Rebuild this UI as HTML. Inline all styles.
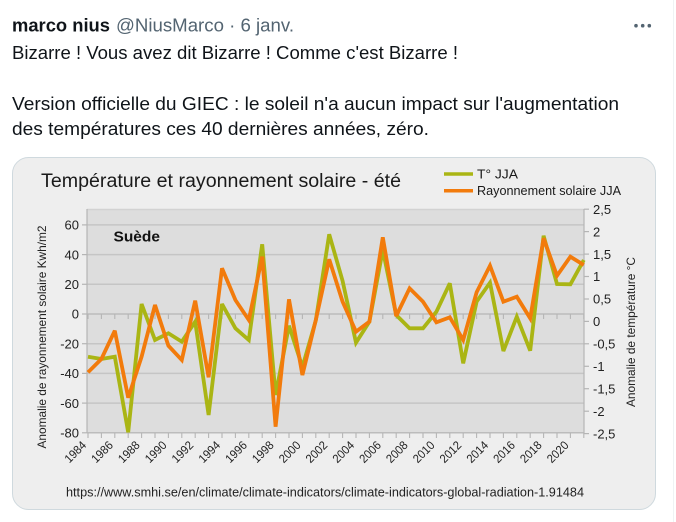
<!DOCTYPE html>
<html><head><meta charset="utf-8"><style>
html,body{margin:0;padding:0;background:#fff;}
svg{display:block;}
</style></head><body>
<svg width="676" height="522" viewBox="0 0 676 522" xmlns="http://www.w3.org/2000/svg" font-family="'Liberation Sans', Arial, sans-serif">
<rect width="676" height="522" fill="#ffffff"/>
<line x1="673.5" y1="0" x2="673.5" y2="522" stroke="#eff3f4" stroke-width="1"/>
<!-- tweet header -->
<text x="12" y="31.5" font-size="18.5" font-weight="bold" fill="#0f1419" textLength="98" lengthAdjust="spacingAndGlyphs">marco nius</text>
<text x="116" y="31.5" font-size="18" fill="#536471" textLength="178" lengthAdjust="spacingAndGlyphs">@NiusMarco · 6 janv.</text>
<circle cx="636" cy="25.7" r="1.8" fill="#536471"/><circle cx="642.7" cy="25.7" r="1.8" fill="#536471"/><circle cx="649.3" cy="25.7" r="1.8" fill="#536471"/>
<text x="12" y="59" font-size="18" fill="#0f1419" textLength="446" lengthAdjust="spacingAndGlyphs">Bizarre ! Vous avez dit Bizarre ! Comme c'est Bizarre !</text>
<text x="12" y="110" font-size="18" fill="#0f1419" textLength="607" lengthAdjust="spacingAndGlyphs">Version officielle du GIEC : le soleil n'a aucun impact sur l'augmentation</text>
<text x="12" y="135" font-size="18" fill="#0f1419" textLength="417" lengthAdjust="spacingAndGlyphs">des températures ces 40 dernières années, zéro.</text>
<!-- card -->
<rect x="12.5" y="157.5" width="643" height="352" rx="16" ry="16" fill="#eeeeee" stroke="#cfd9de" stroke-width="1"/>
<!-- title & legend -->
<text x="41" y="187" font-size="19" fill="#1a1a1a" textLength="360" lengthAdjust="spacingAndGlyphs">Température et rayonnement solaire - été</text>
<line x1="444" y1="174" x2="473" y2="174" stroke="#aab514" stroke-width="3.5"/>
<line x1="444" y1="190.7" x2="473" y2="190.7" stroke="#f27b0c" stroke-width="3.5"/>
<text x="477" y="178.5" font-size="12.5" fill="#1a1a1a" textLength="41" lengthAdjust="spacingAndGlyphs">T° JJA</text>
<text x="477" y="195" font-size="12.5" fill="#1a1a1a" textLength="144" lengthAdjust="spacingAndGlyphs">Rayonnement solaire JJA</text>
<!-- plot area -->
<rect x="87" y="209" width="497" height="224" fill="#dddddd"/>
<g stroke="#c5c5c5" stroke-width="1.5">
<line x1="87" y1="209.5" x2="584" y2="209.5" stroke="#d2d2d2"/>
<line x1="87" y1="224.9" x2="584" y2="224.9"/>
<line x1="87" y1="254.6" x2="584" y2="254.6"/>
<line x1="87" y1="284.3" x2="584" y2="284.3"/>
<line x1="87" y1="314" x2="584" y2="314" stroke="#bcbcbc"/>
<line x1="87" y1="343.7" x2="584" y2="343.7"/>
<line x1="87" y1="373.4" x2="584" y2="373.4"/>
<line x1="87" y1="403.1" x2="584" y2="403.1"/>
<line x1="87" y1="432.8" x2="584" y2="432.8" stroke="#bcbcbc"/>
</g>
<g stroke="#b5b5b5" stroke-width="1.2">
<line x1="87" y1="209" x2="87" y2="433"/>
<line x1="584" y1="209" x2="584" y2="433"/>
<line x1="82" y1="224.9" x2="87" y2="224.9"/><line x1="82" y1="254.6" x2="87" y2="254.6"/><line x1="82" y1="284.3" x2="87" y2="284.3"/><line x1="82" y1="314" x2="87" y2="314"/><line x1="82" y1="343.7" x2="87" y2="343.7"/><line x1="82" y1="373.4" x2="87" y2="373.4"/><line x1="82" y1="403.1" x2="87" y2="403.1"/><line x1="82" y1="432.8" x2="87" y2="432.8"/>
<line x1="584" y1="209.2" x2="589" y2="209.2"/><line x1="584" y1="231.6" x2="589" y2="231.6"/><line x1="584" y1="254.1" x2="589" y2="254.1"/><line x1="584" y1="276.5" x2="589" y2="276.5"/><line x1="584" y1="299" x2="589" y2="299"/><line x1="584" y1="321.4" x2="589" y2="321.4"/><line x1="584" y1="343.8" x2="589" y2="343.8"/><line x1="584" y1="366.3" x2="589" y2="366.3"/><line x1="584" y1="388.7" x2="589" y2="388.7"/><line x1="584" y1="411.2" x2="589" y2="411.2"/><line x1="584" y1="433.6" x2="589" y2="433.6"/>
</g>
<g stroke="#b5b5b5" stroke-width="1.1">
<path d="M88 314v5M101.4 314v5M114.8 314v5M128.2 314v5M141.6 314v5M155 314v5M168.4 314v5M181.8 314v5M195.2 314v5M208.6 314v5M222 314v5M235.4 314v5M248.8 314v5M262.2 314v5M275.6 314v5M289 314v5M302.4 314v5M315.8 314v5M329.2 314v5M342.6 314v5M356 314v5M369.4 314v5M382.8 314v5M396.2 314v5M409.6 314v5M423 314v5M436.4 314v5M449.8 314v5M463.2 314v5M476.6 314v5M490 314v5M503.4 314v5M516.8 314v5M530.2 314v5M543.6 314v5M557 314v5M570.4 314v5M583.8 314v5"/>
<path d="M88 433v5M101.4 433v5M114.8 433v5M128.2 433v5M141.6 433v5M155 433v5M168.4 433v5M181.8 433v5M195.2 433v5M208.6 433v5M222 433v5M235.4 433v5M248.8 433v5M262.2 433v5M275.6 433v5M289 433v5M302.4 433v5M315.8 433v5M329.2 433v5M342.6 433v5M356 433v5M369.4 433v5M382.8 433v5M396.2 433v5M409.6 433v5M423 433v5M436.4 433v5M449.8 433v5M463.2 433v5M476.6 433v5M490 433v5M503.4 433v5M516.8 433v5M530.2 433v5M543.6 433v5M557 433v5M570.4 433v5M583.8 433v5"/>
</g>
<text x="113.5" y="241.5" font-size="15" font-weight="bold" fill="#111" textLength="46.5" lengthAdjust="spacingAndGlyphs">Suède</text>
<!-- series -->
<polyline fill="none" stroke="#aab514" stroke-width="3.8" stroke-linejoin="miter" stroke-miterlimit="3" points="88,356.7 101.4,359 114.8,356.7 128.2,432.3 141.6,304 155,340 168.4,333.3 181.8,341.7 195.2,321.7 208.6,415 222,304 235.4,328.3 248.8,340 262.2,244.3 275.6,395 289,325.7 302.4,367 315.8,320.5 329.2,234.3 342.6,281 356,342.7 369.4,321.7 382.8,250 396.2,315 409.6,328.3 423,328.3 436.4,311.7 449.8,283.3 463.2,363.3 476.6,301.7 490,282.7 503.4,351 516.8,316.7 530.2,350.7 543.6,235.7 557,284 570.4,284.3 583.8,260"/>
<polyline fill="none" stroke="#f27b0c" stroke-width="3.8" stroke-linejoin="miter" stroke-miterlimit="3" points="88,372.3 101.4,359 114.8,330.7 128.2,397.7 141.6,356.7 155,305 168.4,345.7 181.8,360 195.2,300.7 208.6,377.3 222,268.3 235.4,300 248.8,320 262.2,256.7 275.6,426.7 289,299.3 302.4,375 315.8,320 329.2,259.3 342.6,301.7 356,331.7 369.4,321.7 382.8,237.3 396.2,316 409.6,288.3 423,301.7 436.4,322.3 449.8,317.3 463.2,340 476.6,292.3 490,265.7 503.4,301.7 516.8,296.7 530.2,318.3 543.6,238.3 557,275.7 570.4,256.7 583.8,265"/>
<!-- left tick labels -->
<g font-size="13" fill="#222" text-anchor="end">
<text x="79" y="229.6">60</text><text x="79" y="259.3">40</text><text x="79" y="289">20</text><text x="79" y="318.7">0</text><text x="79" y="348.4">-20</text><text x="79" y="378.1">-40</text><text x="79" y="407.8">-60</text><text x="79" y="437.5">-80</text>
</g>
<!-- right tick labels -->
<g font-size="13" fill="#222">
<text x="593" y="213.9">2,5</text><text x="593" y="236.3">2</text><text x="593" y="258.8">1,5</text><text x="593" y="281.2">1</text><text x="593" y="303.7">0,5</text><text x="593" y="326.1">0</text><text x="593" y="348.5">-0,5</text><text x="593" y="371">-1</text><text x="593" y="393.4">-1,5</text><text x="593" y="415.9">-2</text><text x="593" y="438.3">-2,5</text>
</g>
<!-- axis titles -->
<text transform="translate(42,337) rotate(-90)" x="0" y="4" font-size="12" fill="#222" text-anchor="middle" textLength="223" lengthAdjust="spacingAndGlyphs">Anomalie de rayonnement solaire Kwh/m2</text>
<text transform="translate(631,332) rotate(-90)" x="0" y="4" font-size="12" fill="#222" text-anchor="middle" textLength="150" lengthAdjust="spacingAndGlyphs">Anomalie de température °C</text>
<!-- year labels -->
<g font-size="12" fill="#222" text-anchor="end">
<text transform="translate(87,446) rotate(-45)" textLength="25" lengthAdjust="spacingAndGlyphs">1984</text>
<text transform="translate(113.8,446) rotate(-45)" textLength="25" lengthAdjust="spacingAndGlyphs">1986</text>
<text transform="translate(140.6,446) rotate(-45)" textLength="25" lengthAdjust="spacingAndGlyphs">1988</text>
<text transform="translate(167.4,446) rotate(-45)" textLength="25" lengthAdjust="spacingAndGlyphs">1990</text>
<text transform="translate(194.2,446) rotate(-45)" textLength="25" lengthAdjust="spacingAndGlyphs">1992</text>
<text transform="translate(221,446) rotate(-45)" textLength="25" lengthAdjust="spacingAndGlyphs">1994</text>
<text transform="translate(247.8,446) rotate(-45)" textLength="25" lengthAdjust="spacingAndGlyphs">1996</text>
<text transform="translate(274.6,446) rotate(-45)" textLength="25" lengthAdjust="spacingAndGlyphs">1998</text>
<text transform="translate(301.4,446) rotate(-45)" textLength="25" lengthAdjust="spacingAndGlyphs">2000</text>
<text transform="translate(328.2,446) rotate(-45)" textLength="25" lengthAdjust="spacingAndGlyphs">2002</text>
<text transform="translate(355,446) rotate(-45)" textLength="25" lengthAdjust="spacingAndGlyphs">2004</text>
<text transform="translate(381.8,446) rotate(-45)" textLength="25" lengthAdjust="spacingAndGlyphs">2006</text>
<text transform="translate(408.6,446) rotate(-45)" textLength="25" lengthAdjust="spacingAndGlyphs">2008</text>
<text transform="translate(435.4,446) rotate(-45)" textLength="25" lengthAdjust="spacingAndGlyphs">2010</text>
<text transform="translate(462.2,446) rotate(-45)" textLength="25" lengthAdjust="spacingAndGlyphs">2012</text>
<text transform="translate(489,446) rotate(-45)" textLength="25" lengthAdjust="spacingAndGlyphs">2014</text>
<text transform="translate(515.8,446) rotate(-45)" textLength="25" lengthAdjust="spacingAndGlyphs">2016</text>
<text transform="translate(542.6,446) rotate(-45)" textLength="25" lengthAdjust="spacingAndGlyphs">2018</text>
<text transform="translate(569.4,446) rotate(-45)" textLength="25" lengthAdjust="spacingAndGlyphs">2020</text>
</g>
<!-- source url -->
<text x="66" y="496.5" font-size="12.5" fill="#222" textLength="518" lengthAdjust="spacingAndGlyphs">https://www.smhi.se/en/climate/climate-indicators/climate-indicators-global-radiation-1.91484</text>
</svg>
</body></html>
